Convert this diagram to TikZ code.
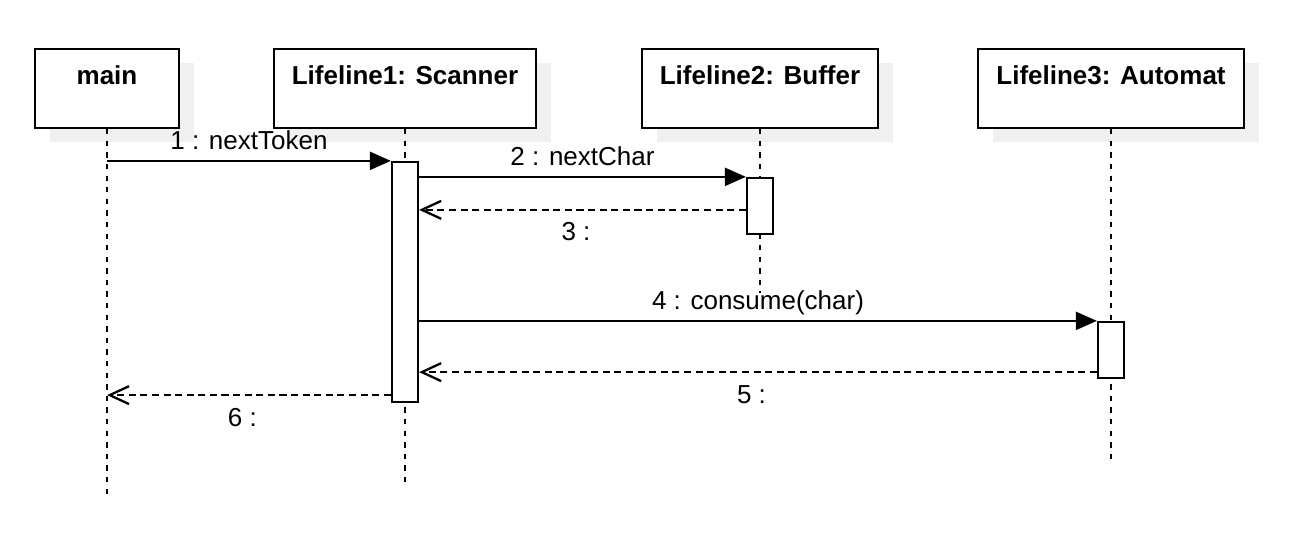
\documentclass[tikz,border=0pt]{standalone}
\usepackage{fontspec}
\setmainfont{Liberation Sans}
\usetikzlibrary{arrows.meta}
\usetikzlibrary{shadows}
\usetikzlibrary{positioning}

\tikzset{
  lifebox/.style={draw=black,fill=white,line width=1.3pt,minimum height=1.58cm,inner sep=0pt,
    drop shadow={shadow xshift=0.3cm,shadow yshift=-0.28cm,fill=black!6,opacity=1}},
  boxlabel/.style={font=\fontsize{14.8}{17.8}\selectfont\bfseries,anchor=base},
  lifeline/.style={line width=1.3pt,dash pattern=on 3pt off 3.6pt},
  actbar/.style={draw=black,fill=white,line width=1.3pt,minimum width=0.52cm,inner sep=0pt},
  call/.style={line width=1.3pt,-{Triangle[length=11.9pt,width=10.2pt]}},
  reply/.style={line width=1.3pt,dash pattern=on 4pt off 2.6pt,-{Straight Barb[length=11pt,width=10.2pt]}},
  msglabel/.style={font=\fontsize{14.8}{17.8}\selectfont,anchor=base}
}

\begin{document}
\begin{tikzpicture}[x=0.02cm,y=-0.02cm]
\useasboundingbox (0,0) rectangle (1308,548);

\node[lifebox,minimum width=2.88cm] (main) at (107,88.5) {};
\node[lifebox,minimum width=5.24cm] (scanner) at (405,88.5) {};
\node[lifebox,minimum width=4.72cm] (buffer) at (760,88.5) {};
\node[lifebox,minimum width=5.32cm] (automat) at (1111,88.5) {};
\node[boxlabel] (mainlbl) at (107,84) {main};
\node[boxlabel] (scannerlbl) at (405,84) {Lifeline1: Scanner};
\node[boxlabel] (bufferlbl) at (760,84) {Lifeline2: Buffer};
\node[boxlabel] (automatlbl) at (1111,84) {Lifeline3: Automat};

\coordinate (mainend) at (107,495);
\coordinate (scannerend) at (405,483);
\coordinate (bufferend) at (760,293);
\coordinate (automatend) at (1111,459);
\draw[lifeline] (main.south) -- (mainend);
\draw[lifeline] (scanner.south) -- (scannerend);
\draw[lifeline] (buffer.south) -- (bufferend);
\draw[lifeline] (automat.south) -- (automatend);

\node[actbar,minimum height=4.8cm] (scanact) at (405,282) {};
\node[actbar,minimum height=1.12cm] (bufact) at (760,206) {};
\node[actbar,minimum height=1.12cm] (autoact) at (1111,350) {};

\draw[call] (main.south |- scanact.north) -- (scanact.north west)
  node[msglabel,midway,yshift=0.22cm] (m1) {1 : nextToken};
\draw[call] (scanact.east |- bufact.north) -- (bufact.north west)
  node[msglabel,midway,yshift=0.22cm] (m2) {2 : nextChar};
\coordinate (r3) at ([yshift=-0.66cm]bufact.north west);
\draw[reply] (r3) -- (scanact.east |- r3)
  node[msglabel,midway,yshift=-0.62cm,xshift=-0.13cm] (m3) {3 :};
\draw[call] (scanact.east |- autoact.north) -- (autoact.north west)
  node[msglabel,midway,yshift=0.22cm] (m4) {4 : consume(char)};
\coordinate (r5) at ([yshift=0.14cm]autoact.south west);
\draw[reply] (r5) -- (scanact.east |- r5)
  node[msglabel,midway,yshift=-0.62cm,xshift=-0.13cm] (m5) {5 :};
\coordinate (r6) at ([yshift=0.16cm]scanact.south west);
\draw[reply] (r6) -- (main.south |- r6)
  node[msglabel,midway,yshift=-0.62cm,xshift=-0.13cm] (m6) {6 :};

\end{tikzpicture}
\end{document}
